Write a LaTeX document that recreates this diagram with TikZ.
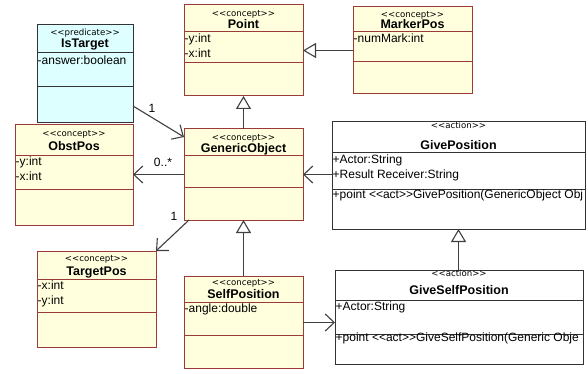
\documentclass[tikz,border=0pt]{standalone}
\usepackage{fontspec}
\setmainfont{Liberation Sans}
\newfontfamily\stfont{DejaVu Sans}
\usetikzlibrary{arrows.meta}

\definecolor{cfill}{HTML}{FFFFDD}
\definecolor{cline}{HTML}{9C3A3A}
\definecolor{pfill}{HTML}{DDFFFF}
\definecolor{dline}{HTML}{333333}
\definecolor{conn}{HTML}{404040}

% stereotype brackets, kept apart so no font mapping merges them
\newcommand\guil[1]{<\kern0pt<#1>\kern0pt>}

\tikzset{
  box/.style={inner sep=0pt, outer sep=0pt, line width=1pt},
  concept/.style={box, draw=cline, fill=cfill},
  predicate/.style={box, draw=dline, fill=pfill},
  action/.style={box, draw=dline, fill=white},
  stereo/.style={inner sep=0pt, anchor=base, font=\stfont\fontsize{8.6}{10}\selectfont},
  cname/.style={inner sep=0pt, anchor=base, font=\bfseries\fontsize{12.5}{15}\selectfont},
  attr/.style={inner sep=0pt, anchor=mid west, font=\fontsize{12}{15}\selectfont},
  mult/.style={inner sep=0pt, anchor=mid, font=\fontsize{12}{15}\selectfont},
  assoc/.style={draw=conn, line width=1.1pt, -{Straight Barb[length=9pt,width=17pt]}},
  inherit/.style={draw=conn, line width=1.1pt, -{Triangle[length=13pt,width=15pt,fill=white]}},
}

% class box: name, style, left, top, right, bottom, header line, attribute line
\newcommand\umlclass[8]{%
  \node[#2, minimum width=#5pt-#3pt, minimum height=#6pt-#4pt] (#1) at ({(#3+#5)/2},{(#4+#6)/2}) {};
  \draw[#2, fill=none] (#3,#7) -- (#5,#7) (#3,#8) -- (#5,#8);
}

\begin{document}
\begin{tikzpicture}[x=1pt, y=-1pt]
\useasboundingbox (0,0) rectangle (588,374);
\fill[white] (0,0) rectangle (588,374);

% class boxes
\umlclass{point}{concept}{184}{5}{303}{96}{32}{63}
\umlclass{markerpos}{concept}{353}{7}{472}{94}{32}{62}
\umlclass{istarget}{predicate}{37}{25}{133}{123}{53}{87}
\umlclass{obstpos}{concept}{15}{125}{133}{225}{156}{189}
\umlclass{genobj}{concept}{184}{129}{303}{220}{156}{187}
\umlclass{givepos}{action}{332}{122}{585}{229}{153}{189}
\umlclass{targetpos}{concept}{37}{251}{156}{347}{279}{312}
\umlclass{selfpos}{concept}{184}{276}{303}{368}{302}{335}
\umlclass{giveself}{action}{335}{270}{583}{364}{300}{334}

% generalizations
\draw[inherit] (markerpos) -- (point);
\draw[inherit] (genobj) -- (point);
\draw[inherit] (selfpos) -- (genobj);
\draw[inherit] (givepos.south |- giveself.north) -- (givepos.south);

% associations
\draw[assoc] ([yshift=17pt]istarget.south east) -- ([yshift=-8pt]genobj.north west);
\draw[assoc] (genobj.west) -- (genobj.west -| obstpos.east);
\draw[assoc] (givepos.west |- genobj.east) -- (genobj.east);
\draw[assoc] ([xshift=5pt]genobj.south west) -- (targetpos.north east);
\draw[assoc] ([yshift=-0.5pt]selfpos.east) -- ([yshift=-0.5pt]selfpos.east -| giveself.west);

% multiplicities
\node[mult] (m-istarget) at (152,110) {1};
\node[mult] (m-obstpos) at (163,164) {0..*};
\node[mult] (m-targetpos) at (174,218) {1};

% Point
\node[stereo] (point-st) at (243.5,16.5) {\guil{concept}};
\node[cname] (point-n) at (243.5,28.5) {Point};
\node[attr] (point-a1) at (184.5,40) {-y:int};
\node[attr] (point-a2) at (184.5,55) {-x:int};

% MarkerPos
\node[stereo] (markerpos-st) at (412.5,17.5) {\guil{concept}};
\node[cname] (markerpos-n) at (412.5,29) {MarkerPos};
\node[attr] (markerpos-a1) at (353.5,40) {-numMark:int};

% IsTarget
\node[stereo] (istarget-st) at (85,35.5) {\guil{predicate}};
\node[cname] (istarget-n) at (85,47.5) {IsTarget};
\node[attr] (istarget-a1) at (37.5,62) {-answer:boolean};

% ObstPos
\node[stereo] (obstpos-st) at (74,136.5) {\guil{concept}};
\node[cname] (obstpos-n) at (74,150.5) {ObstPos};
\node[attr] (obstpos-a1) at (15.5,163) {-y:int};
\node[attr] (obstpos-a2) at (15.5,178) {-x:int};

% GenericObject
\node[stereo] (genobj-st) at (243.5,140.5) {\guil{concept}};
\node[cname] (genobj-n) at (243.5,152.5) {GenericObject};

% GivePosition
\node[stereo] (givepos-st) at (458.5,128.5) {\guil{action}};
\node[cname] (givepos-n) at (458.5,149.5) {GivePosition};
\node[attr] (givepos-a1) at (332.5,161) {+Actor:String};
\node[attr] (givepos-a2) at (332.5,176) {+Result Receiver:String};
\begin{scope}
  \clip (givepos.north west) rectangle (givepos.south east);
  \node[attr] (givepos-op) at (332.5,196) {+point \guil{act}GivePosition(GenericObject Obj};
\end{scope}

% TargetPos
\node[stereo] (targetpos-st) at (96.5,261.5) {\guil{concept}};
\node[cname] (targetpos-n) at (96.5,275.5) {TargetPos};
\node[attr] (targetpos-a1) at (37.5,287) {-x:int};
\node[attr] (targetpos-a2) at (37.5,302) {-y:int};

% SelfPosition
\node[stereo] (selfpos-st) at (243.5,285.5) {\guil{concept}};
\node[cname] (selfpos-n) at (243.5,298.5) {SelfPosition};
\node[attr] (selfpos-a1) at (184.5,310) {-angle:double};

% GiveSelfPosition
\node[stereo] (giveself-st) at (459,276) {\guil{action}};
\node[cname] (giveself-n) at (459,294.5) {GiveSelfPosition};
\node[attr] (giveself-a1) at (335.5,308) {+Actor:String};
\begin{scope}
  \clip (giveself.north west) rectangle (giveself.south east);
  \node[attr] (giveself-op) at (335.5,339) {+point \guil{act}GiveSelfPosition(Generic Obje};
\end{scope}
\end{tikzpicture}
\end{document}
